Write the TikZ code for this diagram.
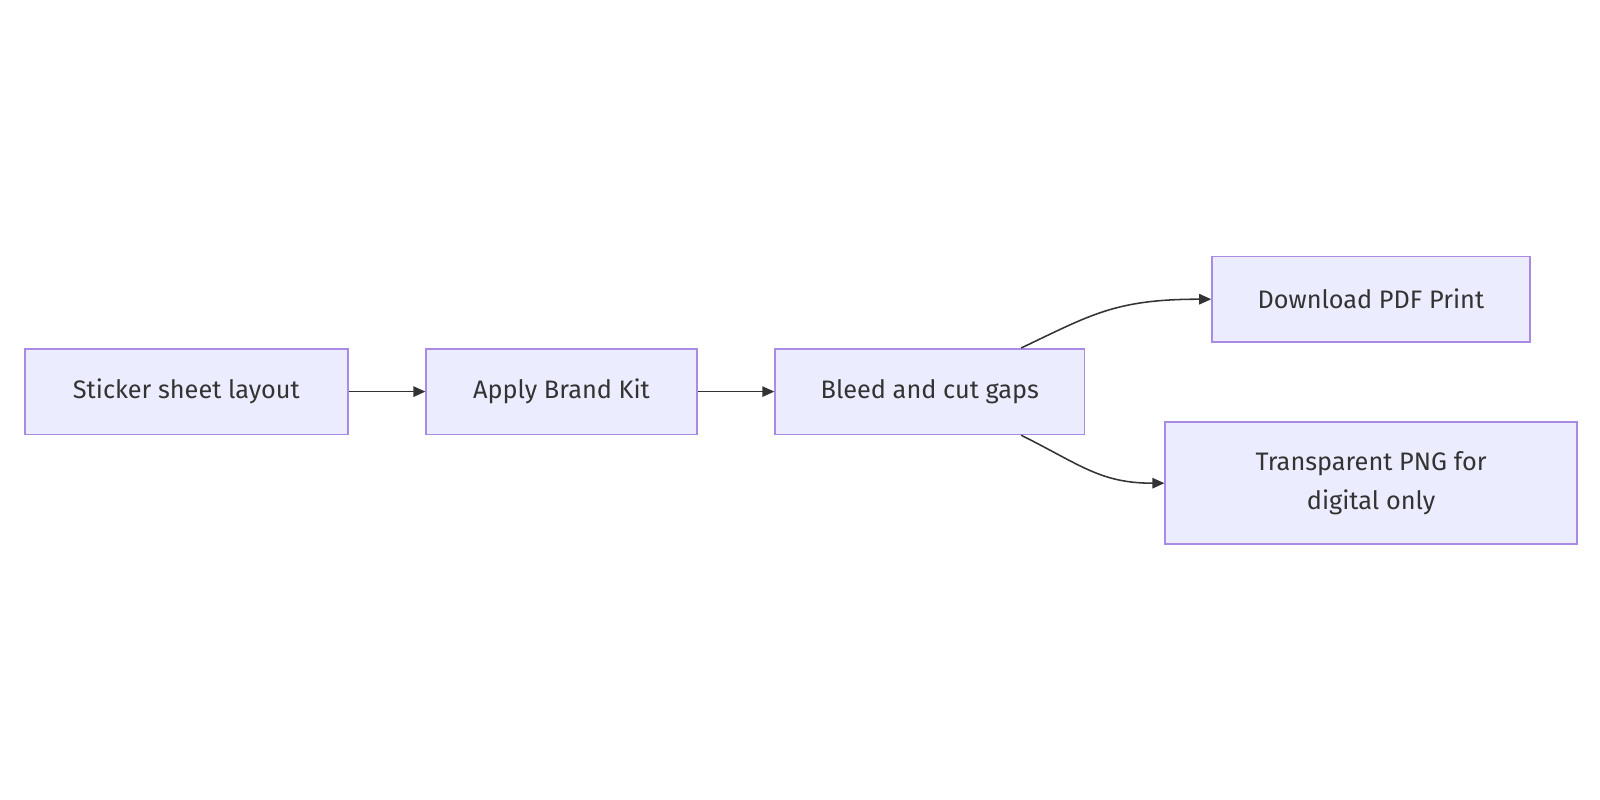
\documentclass[tikz,border=0pt]{standalone}
\usepackage{fontspec}
\setmainfont{Fira Sans}
\usepackage{tikz}
\usetikzlibrary{calc, arrows.meta, positioning}
\definecolor{boxfill}{HTML}{ECECFF}
\definecolor{boxline}{HTML}{A98BE6}
\definecolor{ink}{HTML}{333333}

\begin{document}
\begin{tikzpicture}[
        node distance=1.92cm,
        box/.style={rectangle, draw=boxline, line width=1.2pt, fill=boxfill, text=ink, align=center, minimum height=2.14cm, font=\fontsize{18}{27.5}\selectfont, inner sep=0pt},
        arrow/.style={-{Triangle[length=0.3cm, width=0.26cm]}, line width=1.1pt, draw=ink}
    ]
        \useasboundingbox (-4.66,-10.21) rectangle (35.34,9.79);

        % Nodes
        \node[box, minimum width=8.07cm] (sticker) {Sticker sheet layout};
        \node[box, right=of sticker, minimum width=6.76cm] (brand) {Apply Brand Kit};
        \node[box, right=of brand, minimum width=7.73cm] (bleed) {Bleed and cut gaps};

        \node[box, right=3.15cm of bleed, yshift=2.31cm, minimum width=7.94cm] (pdf) {Download PDF Print};
        \node[box, right=1.98cm of bleed, yshift=-2.29cm, minimum width=10.29cm, minimum height=3.05cm] (png) {Transparent PNG for\\digital only};

        % Arrows
        \draw[arrow] (sticker) -- (brand);
        \draw[arrow] (brand) -- (bleed);

        \coordinate (top) at ($(bleed.north east)+(-1.6,0)$);
        \coordinate (bot) at ($(bleed.south east)+(-1.6,0)$);
        \draw[arrow] (top) .. controls +(1.75,0.83) and +(-2.4,0) .. (pdf.west);
        \draw[arrow] (bot) .. controls +(1.5,-0.75) and +(-1.6,0) .. (png.west);
    \end{tikzpicture}
\end{document}
